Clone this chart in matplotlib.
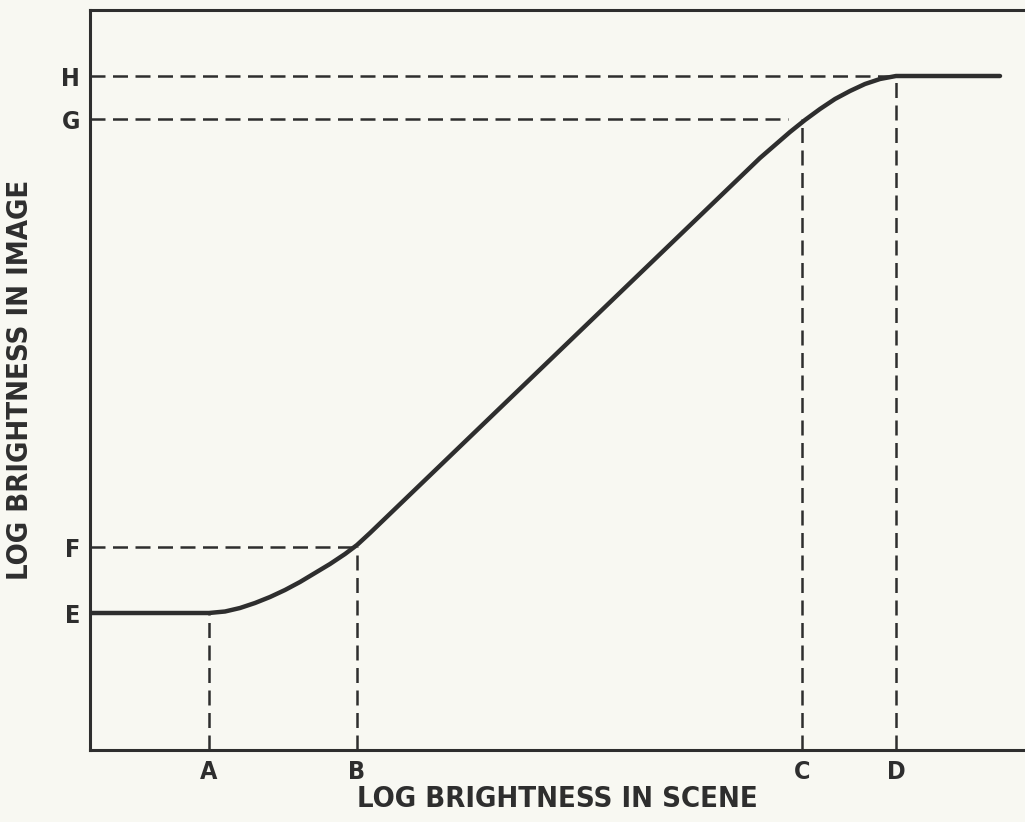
import matplotlib.pyplot as plt

# characteristic curve (data units)
curve_x = [0.0, 1.19, 1.35, 1.50, 1.65, 1.80, 1.95, 2.10, 2.25, 2.40, 2.55, 2.67, 2.80,
           6.70, 6.85, 7.00, 7.15, 7.30, 7.45, 7.60, 7.75, 7.90, 8.06, 9.10]
curve_y = [1.37, 1.37, 1.385, 1.42, 1.47, 1.53, 1.60, 1.68, 1.77, 1.86, 1.96, 2.05, 2.17,
           5.92, 6.05, 6.18, 6.30, 6.41, 6.51, 6.59, 6.66, 6.71, 6.74, 6.74]

# marked points on each axis
x_labels = ['A', 'B', 'C', 'D']
x_marks = [1.19, 2.67, 7.12, 8.06]
y_labels = ['E', 'F', 'G', 'H']
y_marks = [1.37, 2.03, 6.31, 6.74]
# where each horizontal guide stops
y_guide_end = [1.19, 2.67, 6.98, 8.06]

ink = '#2e2e2e'
bg = '#f8f8f2'
font = dict(family='DejaVu Sans', stretch='condensed', weight='bold', color=ink)

fig = plt.figure(figsize=(10.25, 8.22), dpi=100, facecolor=bg)
ax = fig.add_axes([90 / 1025, 1 - 750 / 822, 1 - 90 / 1025, 740 / 822])
ax.set_facecolor(bg)
ax.set_xlim(0, 9.35)
ax.set_ylim(0, 7.4)

ax.plot(curve_x, curve_y, color=ink, lw=3.2, solid_capstyle='round', solid_joinstyle='round')

dash = (0, (6, 3))
for xv, top in zip(x_marks, y_marks):
    ax.plot([xv, xv], [0, top], color=ink, lw=1.8, linestyle=dash)
for yv, end in zip(y_marks, y_guide_end):
    if yv == y_marks[0]:
        continue  # E level lies on the curve itself
    ax.plot([0, end], [yv, yv], color=ink, lw=1.8, linestyle=dash)

ax.set_xticks(x_marks)
ax.set_xticklabels(x_labels, fontsize=18, **font)
ax.set_yticks(y_marks)
ax.set_yticklabels(y_labels, fontsize=18, **font)
ax.tick_params(length=0, pad=7)

for side in ['left', 'bottom', 'top']:
    ax.spines[side].set_linewidth(2.2)
    ax.spines[side].set_color(ink)
ax.spines['right'].set_visible(False)

ax.set_xlabel('LOG BRIGHTNESS IN SCENE', fontsize=21, labelpad=1, **font)
ax.set_ylabel('LOG BRIGHTNESS IN IMAGE', fontsize=21, labelpad=20, **font)

fig.savefig('out.png', dpi=100, facecolor=bg)
